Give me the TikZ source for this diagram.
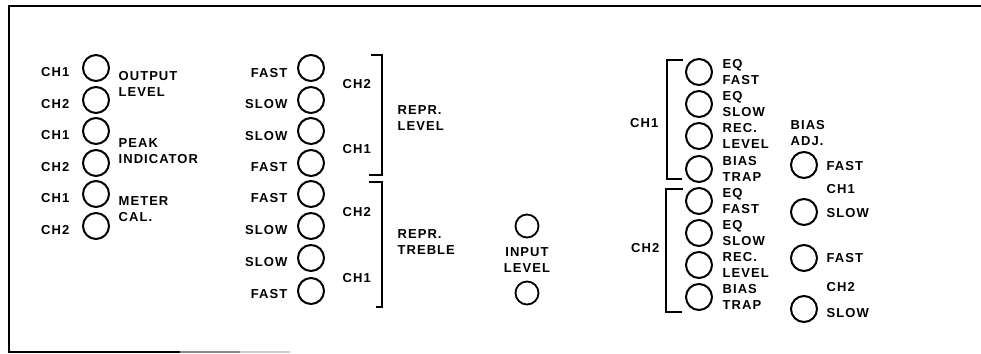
\documentclass[tikz,border=0pt]{standalone}
\usepackage{fontspec}
\newfontfamily\panelfont{Liberation Sans}[LetterSpace=8]
\usepackage{tikz}
\usetikzlibrary{positioning}

\begin{document}
\begin{tikzpicture}[
    x=1pt, y=-1pt,
    knob/.style={circle, draw=black, line width=2pt, minimum size=26pt, inner sep=0pt},
    smallknob/.style={circle, draw=black, line width=1.8pt, minimum size=23pt, inner sep=0pt},
    lbl/.style={inner sep=0.5pt, align=left, font=\panelfont\bfseries\fontsize{13}{15.5}\selectfont},
    brk/.style={line width=2pt},
    frame/.style={line width=2pt}
]
\useasboundingbox (0,0) rectangle (981,353);

% Frame
\draw[frame] (981,6) -- (9,6) -- (9,352) -- (180,352);
\draw[frame, black!45] (180,352) -- (240,352);
\draw[frame, black!20] (240,352) -- (290,352);

% Output level / peak indicator / meter cal.
\node[knob] (o1) at (96,68) {};
\node[knob] (o2) at (96,100) {};
\node[knob] (o3) at (96,131) {};
\node[knob] (o4) at (96,163) {};
\node[knob] (o5) at (96,194) {};
\node[knob] (o6) at (96,226) {};
\node[lbl, anchor=east] (o1l) at (70,72) {CH1};
\node[lbl, anchor=east] (o2l) at (70,104) {CH2};
\node[lbl, anchor=east] (o3l) at (70,135) {CH1};
\node[lbl, anchor=east] (o4l) at (70,167) {CH2};
\node[lbl, anchor=east] (o5l) at (70,198) {CH1};
\node[lbl, anchor=east] (o6l) at (70,230) {CH2};
\node[lbl, anchor=west] (outlvl) at (118,84) {OUTPUT\\LEVEL};
\node[lbl, anchor=west] (peak) at (118,151) {PEAK\\INDICATOR};
\node[lbl, anchor=west] (metercal) at (118,209) {METER\\CAL.};

% Repr. level / repr. treble
\node[knob] (r1) at (311,68) {};
\node[knob] (r2) at (311,100) {};
\node[knob] (r3) at (311,131) {};
\node[knob] (r4) at (311,163) {};
\node[knob] (r5) at (311,194) {};
\node[knob] (r6) at (311,226) {};
\node[knob] (r7) at (311,258) {};
\node[knob] (r8) at (311,291) {};
\node[lbl, anchor=east] (r1l) at (288,73) {FAST};
\node[lbl, anchor=east] (r2l) at (288,104) {SLOW};
\node[lbl, anchor=east] (r3l) at (288,136) {SLOW};
\node[lbl, anchor=east] (r4l) at (288,167) {FAST};
\node[lbl, anchor=east] (r5l) at (288,198) {FAST};
\node[lbl, anchor=east] (r6l) at (288,230) {SLOW};
\node[lbl, anchor=east] (r7l) at (288,262) {SLOW};
\node[lbl, anchor=east] (r8l) at (288,294) {FAST};
\node[lbl, anchor=west] (rch2a) at (342,84) {CH2};
\node[lbl, anchor=west] (rch1a) at (342,149) {CH1};
\node[lbl, anchor=west] (rch2b) at (342,212) {CH2};
\node[lbl, anchor=west] (rch1b) at (342,278) {CH1};
\draw[brk] (371,55) -- (382,55) -- (382,175) -- (369,175);
\draw[brk] (369,182) -- (382,182) -- (382,307) -- (376,307);
\node[lbl, anchor=west] (reprlvl) at (397,118) {REPR.\\LEVEL};
\node[lbl, anchor=west] (reprtreb) at (397,242) {REPR.\\TREBLE};

% Input level
\node[smallknob] (in1) at (527,226) {};
\node[smallknob] (in2) at (527,293) {};
\node[lbl, align=center] (inlvl) at (527,260) {INPUT\\LEVEL};

% Record section
\draw[brk] (683,60) -- (667,60) -- (667,179) -- (682,179);
\draw[brk] (683,189) -- (666,189) -- (666,312) -- (682,312);
\node[lbl, anchor=east] (ech1) at (659,123) {CH1};
\node[lbl, anchor=east] (ech2) at (660,248) {CH2};
\node[knob] (e1) at (699,72) {};
\node[knob] (e2) at (699,104) {};
\node[knob] (e3) at (699,136) {};
\node[knob] (e4) at (699,169) {};
\node[knob] (e5) at (699,201) {};
\node[knob] (e6) at (699,233) {};
\node[knob] (e7) at (699,265) {};
\node[knob] (e8) at (699,297) {};
\node[lbl, anchor=west] (e1l) at (722,72) {EQ\\FAST};
\node[lbl, anchor=west] (e2l) at (722,104) {EQ\\SLOW};
\node[lbl, anchor=west] (e3l) at (722,136) {REC.\\LEVEL};
\node[lbl, anchor=west] (e4l) at (722,169) {BIAS\\TRAP};
\node[lbl, anchor=west] (e5l) at (722,201) {EQ\\FAST};
\node[lbl, anchor=west] (e6l) at (722,233) {EQ\\SLOW};
\node[lbl, anchor=west] (e7l) at (722,265) {REC.\\LEVEL};
\node[lbl, anchor=west] (e8l) at (722,297) {BIAS\\TRAP};

% Bias adj.
\node[lbl, anchor=west] (biasadj) at (790,133) {BIAS\\ADJ.};
\node[knob] (b1) at (804,165) {};
\node[knob] (b2) at (804,212) {};
\node[knob] (b3) at (804,258) {};
\node[knob] (b4) at (804,309) {};
\node[lbl, anchor=west] (b1l) at (826,166) {FAST};
\node[lbl, anchor=west] (bch1) at (826,189) {CH1};
\node[lbl, anchor=west] (b2l) at (826,213) {SLOW};
\node[lbl, anchor=west] (b3l) at (826,258) {FAST};
\node[lbl, anchor=west] (bch2) at (826,287) {CH2};
\node[lbl, anchor=west] (b4l) at (826,313) {SLOW};

\end{tikzpicture}
\end{document}
